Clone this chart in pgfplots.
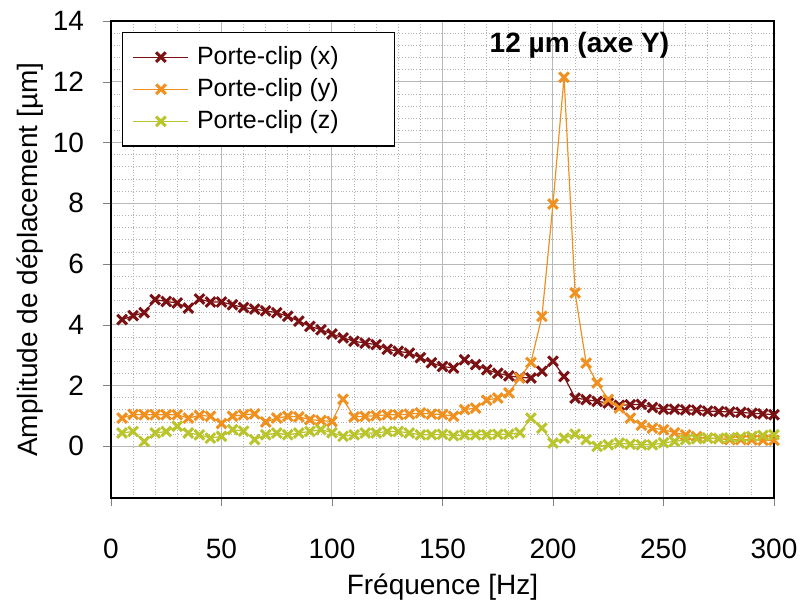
\documentclass[border=0pt]{standalone}
\usepackage{fontspec}
\setmainfont{Liberation Sans}
\usepackage{pgfplots}
\pgfplotsset{compat=1.18}
\definecolor{cx}{HTML}{7B1113}
\definecolor{cy}{HTML}{F0901F}
\definecolor{cz}{HTML}{BAC52C}

\begin{document}
\begin{tikzpicture}
\useasboundingbox (-55.5pt,-52pt) rectangle (344.5pt,249pt);
\begin{axis}[
  at={(0pt,0pt)}, anchor=south west,
  scale only axis, width=331.5pt, height=238.5pt,
  xmin=0, xmax=300, ymin=-1.7, ymax=14,
  xtick={0,50,...,300}, ytick={0,2,...,14},
  minor x tick num=4, minor y tick num=4,
  grid=both,
  major grid style={draw=black!28, line width=0.5pt},
  minor grid style={draw=black!30, densely dotted, line width=0.4pt},
  tick align=outside, tick pos=left,
  major tick length=4pt, minor tick length=0pt,
  axis line style={line width=0.8pt},
  font=\fontsize{14}{16}\selectfont,
  /pgf/number format/assume math mode=true,
  xticklabel style={yshift=-13pt},
  yticklabel style={xshift=-6pt},
  xlabel={Fréquence [Hz]},
  ylabel={Amplitude de déplacement [µm]},
  xlabel style={at={(axis description cs:0.5,-0.186)}, anchor=center},
  ylabel style={at={(axis description cs:-0.122,0.5)}, anchor=center},
  legend cell align=left,
  legend style={at={(0.017,0.977)}, anchor=north west, draw=black, line width=0.6pt,
    font=\fontsize{12.5}{14}\selectfont, inner xsep=5pt, inner ysep=5pt,
    row sep=1.5pt, column sep=2pt,
    every odd column/.append style={column sep=4pt},
    every even column/.append style={column sep=0pt}},
  legend image code/.code={
    \draw[mark repeat=2,mark phase=2,#1] plot coordinates {(0pt,0pt) (13.75pt,0pt) (27.5pt,0pt)};
  },
  every axis plot/.append style={line width=0.6pt, mark=x, mark size=3.4pt,
    mark options={line width=1.5pt}},
]
\addplot[color=cx] coordinates {
(5,4.17) (10,4.30) (15,4.40) (20,4.83) (25,4.77) (30,4.72) (35,4.55) (40,4.85)
(45,4.75) (50,4.75) (55,4.66) (60,4.57) (65,4.52) (70,4.46) (75,4.40) (80,4.28)
(85,4.12) (90,3.95) (95,3.84) (100,3.70) (105,3.57) (110,3.46) (115,3.40) (120,3.35)
(125,3.20) (130,3.13) (135,3.07) (140,2.92) (145,2.75) (150,2.63) (155,2.58) (160,2.85)
(165,2.69) (170,2.52) (175,2.41) (180,2.32) (185,2.27) (190,2.25) (195,2.47) (200,2.80)
(205,2.30) (210,1.59) (215,1.54) (220,1.48) (225,1.43) (230,1.35) (235,1.37) (240,1.38)
(245,1.28) (250,1.22) (255,1.22) (260,1.20) (265,1.19) (270,1.16) (275,1.15) (280,1.13)
(285,1.12) (290,1.09) (295,1.07) (300,1.04)
};
\addlegendentry{Porte-clip (x)\hphantom{mm}}
\addplot[color=cy] coordinates {
(5,0.93) (10,1.05) (15,1.04) (20,1.04) (25,1.04) (30,1.04) (35,0.93) (40,1.02)
(45,0.99) (50,0.75) (55,0.99) (60,1.04) (65,1.07) (70,0.80) (75,0.93) (80,0.99)
(85,0.97) (90,0.88) (95,0.85) (100,0.82) (105,1.55) (110,0.97) (115,0.99) (120,1.01)
(125,1.04) (130,1.04) (135,1.06) (140,1.10) (145,1.06) (150,1.05) (155,0.99) (160,1.21)
(165,1.26) (170,1.52) (175,1.59) (180,1.76) (185,2.25) (190,2.76) (195,4.28) (200,7.98)
(205,12.15) (210,5.05) (215,2.74) (220,2.09) (225,1.54) (230,1.26) (235,0.93) (240,0.70)
(245,0.60) (250,0.55) (255,0.45) (260,0.38) (265,0.32) (270,0.27) (275,0.25) (280,0.22)
(285,0.22) (290,0.21) (295,0.20) (300,0.20)
};
\addlegendentry{Porte-clip (y)}
\addplot[color=cz] coordinates {
(5,0.44) (10,0.49) (15,0.16) (20,0.44) (25,0.49) (30,0.66) (35,0.44) (40,0.38)
(45,0.27) (50,0.33) (55,0.55) (60,0.50) (65,0.22) (70,0.38) (75,0.44) (80,0.38)
(85,0.44) (90,0.49) (95,0.55) (100,0.45) (105,0.33) (110,0.38) (115,0.44) (120,0.44)
(125,0.49) (130,0.49) (135,0.44) (140,0.38) (145,0.38) (150,0.40) (155,0.35) (160,0.38)
(165,0.38) (170,0.38) (175,0.40) (180,0.40) (185,0.45) (190,0.93) (195,0.60) (200,0.11)
(205,0.27) (210,0.40) (215,0.22) (220,0.00) (225,0.05) (230,0.11) (235,0.07) (240,0.05)
(245,0.05) (250,0.12) (255,0.16) (260,0.22) (265,0.25) (270,0.27) (275,0.27) (280,0.28)
(285,0.30) (290,0.33) (295,0.36) (300,0.38)
};
\addlegendentry{Porte-clip (z)}
\node[font=\bfseries\fontsize{14}{16}\selectfont] at (axis cs:212,13.2) {12 µm (axe Y)};
\end{axis}
\end{tikzpicture}
\end{document}
